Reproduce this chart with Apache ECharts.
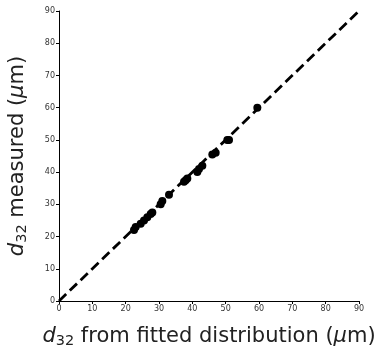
<!DOCTYPE html>
<html>
<head>
<meta charset="utf-8">
<script src="https://cdn.jsdelivr.net/npm/echarts@6/dist/echarts.min.js"></script>
<style>
  html, body { margin: 0; padding: 0; background: #fff; }
  #chart { width: 380px; height: 352px; }
</style>
</head>
<body>
<div id="chart"></div>
<script>
// d32 from fitted distribution vs measured (um)
const fitted = [22.5, 23, 24.5, 25.5, 26.5, 27.5, 28, 30.5, 31, 33, 37.5, 38, 38.5, 41.5, 42, 43, 46, 47, 50.5, 51, 59.5]
const measured = [22, 23, 24, 25, 26, 27, 27.5, 30, 31, 33, 37, 37.5, 38, 40, 41, 42, 45.5, 46, 50, 50, 60]
const parity = [[0, 0], [90, 90]]
const ticks = [0, 10, 20, 30, 40, 50, 60, 70, 80, 90]

const rich = {
  d: { fontFamily: 'DejaVu Sans', fontStyle: 'italic', fontSize: 21, color: '#222' },
  s: { fontFamily: 'DejaVu Sans', fontSize: 14.5, color: '#222', padding: [10, 0, 0, 0] },
  t: { fontFamily: 'DejaVu Sans', fontSize: 21, color: '#222' },
  mu: { fontFamily: 'DejaVu Sans', fontStyle: 'italic', fontSize: 21, color: '#222' },
}

const axisCommon = {
  type: 'value',
  min: ticks[0],
  max: ticks[ticks.length - 1],
  interval: 10,
  splitLine: { show: false },
  axisLine: { show: true, onZero: false, lineStyle: { color: '#000', width: 1 } },
  axisTick: { show: true, length: 3, lineStyle: { color: '#000' } },
  axisLabel: { color: '#333', fontSize: 8, fontFamily: 'DejaVu Sans', margin: 4 },
  nameLocation: 'middle',
  nameTextStyle: { rich },
}

const chart = echarts.init(document.getElementById('chart'), null, { renderer: 'canvas' })
chart.setOption({
  backgroundColor: '#fff',
  animation: false,
  grid: { left: 59, right: 21, top: 11, bottom: 51, containLabel: false, outerBoundsMode: 'none' },
  xAxis: {
    ...axisCommon,
    name: '{d|d}{s|32}{t| from fitted distribution (}{mu|μ}{t|m)}',
    nameGap: 23,
  },
  yAxis: {
    ...axisCommon,
    name: '{d|d}{s|32}{t| measured (}{mu|μ}{t|m)}',
    nameGap: 29,
  },
  series: [
    {
      type: 'line',
      data: parity,
      symbol: 'none',
      lineStyle: { color: '#000', width: 2.8, type: [10, 5] },
      z: 3,
    },
    {
      type: 'scatter',
      data: fitted.map((x, i) => [x, measured[i]]),
      symbol: 'circle',
      symbolSize: 8,
      itemStyle: { color: '#000', opacity: 1 },
      z: 4,
    },
  ],
})
</script>
</body>
</html>
